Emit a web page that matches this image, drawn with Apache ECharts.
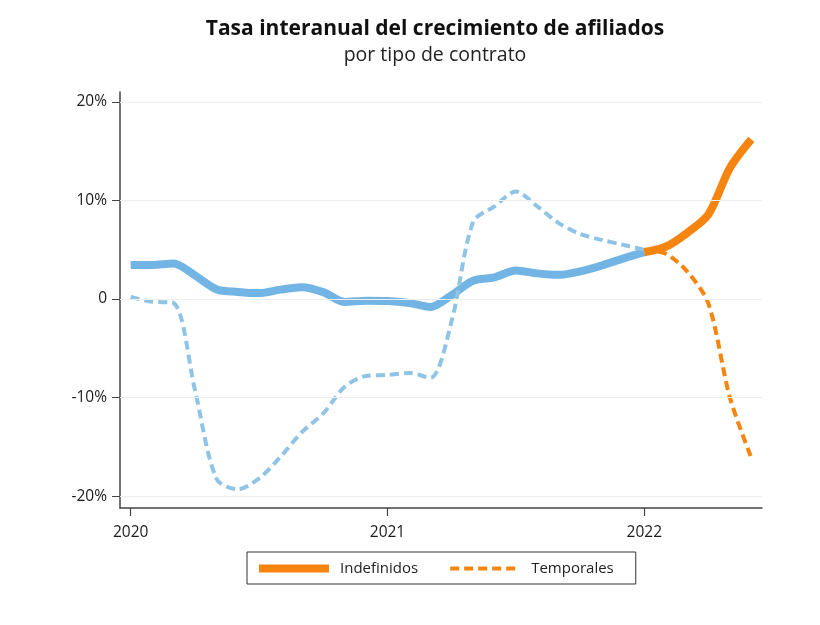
<!DOCTYPE html>
<html>
<head>
<meta charset="utf-8">
<script src="https://cdn.jsdelivr.net/npm/echarts@6/dist/echarts.min.js"></script>
<style>html,body{margin:0;padding:0;background:#fff;}#c{width:820px;height:625px;}</style>
</head>
<body>
<div id="c"></div>
<script>
const months = ['2020-01','2020-02','2020-03','2020-04','2020-05','2020-06','2020-07','2020-08','2020-09','2020-10','2020-11','2020-12',
  '2021-01','2021-02','2021-03','2021-04','2021-05','2021-06','2021-07','2021-08','2021-09','2021-10','2021-11','2021-12',
  '2022-01','2022-02','2022-03','2022-04','2022-05','2022-06'];
const yearLabels = {0: '2020', 12: '2021', 24: '2022'};
const indefinidos = [3.45, 3.45, 3.6, 2.4, 1.0, 0.72, 0.6, 0.95, 1.2, 0.7, -0.3, -0.17,
  -0.2, -0.4, -0.8, 0.4, 1.85, 2.2, 2.9, 2.6, 2.45, 2.8, 3.4, 4.1,
  4.75, 5.3, 6.7, 8.6, 13.3, 16.2];
const temporales = [0.2, -0.27, -0.4, -9.2, -18.2, -19.3, -18.2, -16.0, -13.5, -11.6, -8.9, -7.8,
  -7.7, -7.5, -8.0, -2.2, 7.8, 9.4, 10.9, 9.4, 7.7, 6.6, 6.0, 5.5,
  5.0, 4.6, 2.8, -0.5, -10.0, -16.1];
const yTicks = [-20, -10, 0, 10, 20];
const xTickIdx = [0, 12, 24];
const splitIndex = 24;

const blue = '#72b5e5', blueDash = '#8fc4e6', orange = '#f5850f';
const before = arr => arr.map((v, i) => i <= splitIndex ? v : null);
const after = arr => arr.map((v, i) => i >= splitIndex ? v : null);
const font = 'Open Sans';

const chart = echarts.init(document.getElementById('c'), null, {renderer: 'canvas'});
chart.setOption({
  backgroundColor: '#fff',
  animation: false,
  title: {
    text: 'Tasa interanual del crecimiento de afiliados',
    subtext: 'por tipo de contrato',
    left: 430, top: 14, textAlign: 'center', itemGap: 5,
    textStyle: {fontFamily: font, fontSize: 21, fontWeight: 'bold', color: '#111'},
    subtextStyle: {fontFamily: font, fontSize: 19.5, color: '#222'}
  },
  legend: {
    data: [
      {name: 'Indefinidos', lineStyle: {width: 8, color: orange, type: 'solid'}, itemStyle: {opacity: 0}},
      {name: 'Temporales', lineStyle: {width: 4, color: orange, type: [9, 5]}, itemStyle: {opacity: 0}}
    ],
    left: 247, top: 552,
    itemWidth: 70, itemHeight: 14, itemGap: 30,
    padding: [9, 22, 8, 8],
    borderColor: '#333', borderWidth: 1,
    textStyle: {fontFamily: font, fontSize: 15, color: '#222', padding: [0, 0, 0, 6]}
  },
  grid: {left: 120, right: 58, top: 92, bottom: 117, containLabel: false},
  xAxis: {
    type: 'category', data: months, boundaryGap: true,
    axisLine: {onZero: false, lineStyle: {color: '#444', width: 1.5}},
    axisTick: {show: true, alignWithLabel: true, length: 8, lineStyle: {color: '#444', width: 1.2},
      customValues: xTickIdx},
    axisLabel: {customValues: xTickIdx, formatter: (v) => yearLabels[months.indexOf(v)] || '', margin: 17,
      fontFamily: font, fontSize: 15.5, color: '#1a1a1a'},
    splitLine: {show: false}
  },
  yAxis: {
    type: 'value', min: -21.2, max: 21.0,
    axisLine: {show: true, lineStyle: {color: '#444', width: 1.5}},
    axisTick: {show: true, length: 8, lineStyle: {color: '#444'}, customValues: yTicks},
    axisLabel: {customValues: yTicks, formatter: v => v === 0 ? '0' : v + '%', margin: 13,
      fontFamily: font, fontSize: 15.5, color: '#1a1a1a'},
    splitLine: {show: false}
  },
  series: [
    {
      name: 'grid', type: 'line', data: [], silent: true,
      markLine: {silent: true, symbol: 'none', label: {show: false},
        lineStyle: {color: '#eeeeee', type: 'solid', width: 1},
        data: yTicks.map(v => ({yAxis: v}))}
    },
    {name: 'Indefinidos (hasta 2022)', type: 'line', data: before(indefinidos), symbol: 'none', smooth: 0.3,
      lineStyle: {color: blue, width: 8}, itemStyle: {color: blue}},
    {name: 'Temporales (hasta 2022)', type: 'line', data: before(temporales), symbol: 'none', smooth: 0.3,
      lineStyle: {color: blueDash, width: 4, type: [9, 5]}, itemStyle: {color: blueDash}},
    {name: 'Indefinidos', type: 'line', data: after(indefinidos), symbol: 'none', smooth: 0.3,
      lineStyle: {color: orange, width: 8}, itemStyle: {color: orange}},
    {name: 'Temporales', type: 'line', data: after(temporales), symbol: 'none', smooth: 0.3,
      lineStyle: {color: orange, width: 4, type: [9, 5]}, itemStyle: {color: orange}}
  ]
});
</script>
</body>
</html>
